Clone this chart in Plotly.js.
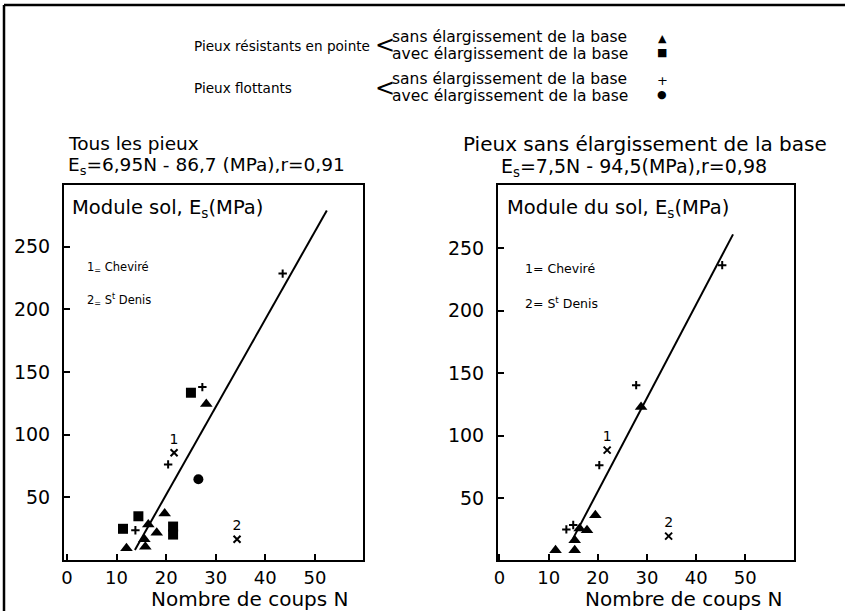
<!DOCTYPE html>
<html><head><meta charset="utf-8">
<script src="https://cdn.plot.ly/plotly-3.0.1.min.js"></script>
<style>html,body{margin:0;padding:0;background:#fff}#chart{width:845px;height:611px}</style>
</head><body><div id="chart"></div>
<script>
// ---- Data: left panel (tous les pieux) ----
const L_triN = [28.1, 19.7, 16.4, 18.1, 15.6, 15.8, 12.0];
const L_triE = [124.5, 37.1, 28.3, 21.7, 16.5, 10.6, 9.3];
const L_sqN = [25.0, 14.4, 11.3, 21.4, 21.4];
const L_sqE = [133.5, 34.9, 24.9, 26.7, 20.3];
const L_plusN = [27.3, 20.4, 13.8, 43.5];
const L_plusE = [138.0, 76.3, 23.7, 228.6];
const L_circN = [26.5];
const L_circE = [64.4];
const L_siteN = [21.6, 34.3];
const L_siteE = [85.6, 16.5];
const L_lineN = [13.7, 52.4];
const L_lineE = [8, 279];
// ---- Data: right panel (pieux sans élargissement) ----
const R_triN = [28.8, 19.5, 17.8, 16.3, 15.3, 15.3, 11.4];
const R_triE = [123, 36.4, 24.4, 25.8, 16.4, 8.4, 8.4];
const R_plusN = [27.8, 20.3, 45.3, 13.6, 15.0];
const R_plusE = [140.4, 76.4, 236.4, 25.0, 28.5];
const R_siteN = [21.9, 34.4];
const R_siteE = [88.4, 19.6];
const R_lineN = [15.0, 47.5];
const R_lineE = [18, 261];
const siteLabels = ['1', '2'];
const xTicks = [0, 10, 20, 30, 40, 50];
const yTicks = [50, 100, 150, 200, 250];

const W = 845, H = 611;
const FONT = 'DejaVu Sans';
const px = x => x / W, py = y => 1 - y / H;

function pts(xa, ya, x, y, symbol, size, extra) {
  return Object.assign({type: 'scatter', mode: 'markers', x: x, y: y, xaxis: xa, yaxis: ya,
    marker: {symbol: symbol, size: size, color: '#000', line: {color: '#000', width: 0}},
    showlegend: false, hoverinfo: 'skip'}, extra || {});
}
function plus(xa, ya, x, y) {
  return pts(xa, ya, x, y, 'cross-thin', 6, {marker: {symbol: 'cross-thin', size: 6, color: '#000', line: {color: '#000', width: 2}}});
}
function sites(xa, ya, x, y) {
  return {type: 'scatter', mode: 'markers+text', x: x, y: y, xaxis: xa, yaxis: ya,
    text: siteLabels, textposition: 'top center', textfont: {family: FONT, size: 14, color: '#000'},
    marker: {symbol: 'x-thin', size: 7, color: '#000', line: {color: '#000', width: 2}},
    showlegend: false, hoverinfo: 'skip'};
}
function line(xa, ya, x, y) {
  return {type: 'scatter', mode: 'lines', x: x, y: y, xaxis: xa, yaxis: ya,
    line: {color: '#000', width: 2}, showlegend: false, hoverinfo: 'skip'};
}

const data = [
  line('x', 'y', L_lineN, L_lineE),
  pts('x', 'y', L_triN, L_triE, 'triangle-up', 11),
  pts('x', 'y', L_sqN, L_sqE, 'square', 10),
  plus('x', 'y', L_plusN, L_plusE),
  pts('x', 'y', L_circN, L_circE, 'circle', 10),
  sites('x', 'y', L_siteN, L_siteE),
  line('x2', 'y2', R_lineN, R_lineE),
  pts('x2', 'y2', R_triN, R_triE, 'triangle-up', 11),
  plus('x2', 'y2', R_plusN, R_plusE),
  sites('x2', 'y2', R_siteN, R_siteE)
];

function xax(domain, range) {
  return {domain: domain, range: range, tickvals: xTicks, ticks: 'inside', ticklen: 6, tickwidth: 2,
    tickcolor: '#000', showline: true, linecolor: '#000', linewidth: 2, mirror: true, ticklabelstandoff: 0,
    showgrid: false, zeroline: false, tickfont: {family: FONT, size: 18, color: '#000'}, fixedrange: true};
}
function yax(anchor, range) {
  return {domain: [py(560), py(185)], range: range, tickvals: yTicks, ticks: 'inside', ticklen: 6, tickwidth: 2,
    tickcolor: '#000', showline: true, linecolor: '#000', linewidth: 2, mirror: true, anchor: anchor,
    ticklabelstandoff: 8,
    showgrid: false, zeroline: false, tickfont: {family: FONT, size: 19, color: '#000'}, fixedrange: true};
}

function ann(text, x, y, size, xanchor, extra) {
  return Object.assign({text: text, x: px(x), y: py(y), xref: 'paper', yref: 'paper', showarrow: false,
    xanchor: xanchor || 'left', yanchor: 'middle', font: {family: FONT, size: size, color: '#000'}}, extra || {});
}

const annotations = [
  ann('Pieux résistants en pointe', 192, 46, 13.6),
  ann('<', 385, 45, 24, 'center'),
  ann('sans élargissement de la base', 390, 36.5, 15.5),
  ann('avec élargissement de la base', 390, 53.5, 15.5),
  ann('▲', 662, 38, 11, 'center'),
  ann('■', 662, 52, 11, 'center'),
  ann('Pieux flottants', 192, 88, 13.6),
  ann('<', 385, 88, 24, 'center'),
  ann('sans élargissement de la base', 390, 79, 15.5),
  ann('avec élargissement de la base', 390, 96, 15.5),
  ann('+', 662, 80, 13, 'center'),
  ann('●', 662, 95, 11, 'center'),
  ann('Tous les pieux', 66, 143, 18.5),
  ann('E<sub>s</sub>=6,95N - 86,7 (MPa),r=0,91', 66, 166, 18.5),
  ann('Pieux sans élargissement de la base', 645, 144, 20, 'center'),
  ann('E<sub>s</sub>=7,5N - 94,5(MPa),r=0,98', 634, 167, 19, 'center'),
  ann('Module sol, E<sub>s</sub>(MPa)', 70, 208, 19.5),
  ann('Module du sol, E<sub>s</sub>(MPa)', 505, 208, 19.5),
  ann('1<sub>=</sub> Cheviré', 85, 267, 11.5),
  ann('2<sub>=</sub> S<sup>t</sup> Denis', 85, 300, 11.5),
  ann('1= Cheviré', 523, 268, 12.5),
  ann('2= S<sup>t</sup> Denis', 523, 303, 12.5),
  ann('Nombre de coups N', 250, 599, 20, 'center'),
  ann('Nombre de coups N', 684, 599, 20, 'center')
];

const layout = {
  width: W, height: H, margin: {l: 0, r: 0, t: 0, b: 0},
  paper_bgcolor: '#fff', plot_bgcolor: '#fff', showlegend: false,
  xaxis: xax([px(64), px(363)], [-0.6, 59.7]),
  yaxis: yax('x', [0, 299.3]),
  xaxis2: Object.assign(xax([px(498), px(794)], [-0.3, 59.9]), {anchor: 'y2'}),
  yaxis2: yax('x2', [0.5, 300.5]),
  annotations: annotations,
  shapes: [
    {type: 'line', xref: 'paper', yref: 'paper', x0: px(4), x1: px(4), y0: 0, y1: py(5), line: {color: '#000', width: 2.5}},
    {type: 'line', xref: 'paper', yref: 'paper', x0: px(4), x1: 1, y0: py(5), y1: py(5), line: {color: '#000', width: 2.5}}
  ]
};

Plotly.newPlot('chart', data, layout, {staticPlot: true, displayModeBar: false});
</script></body></html>
